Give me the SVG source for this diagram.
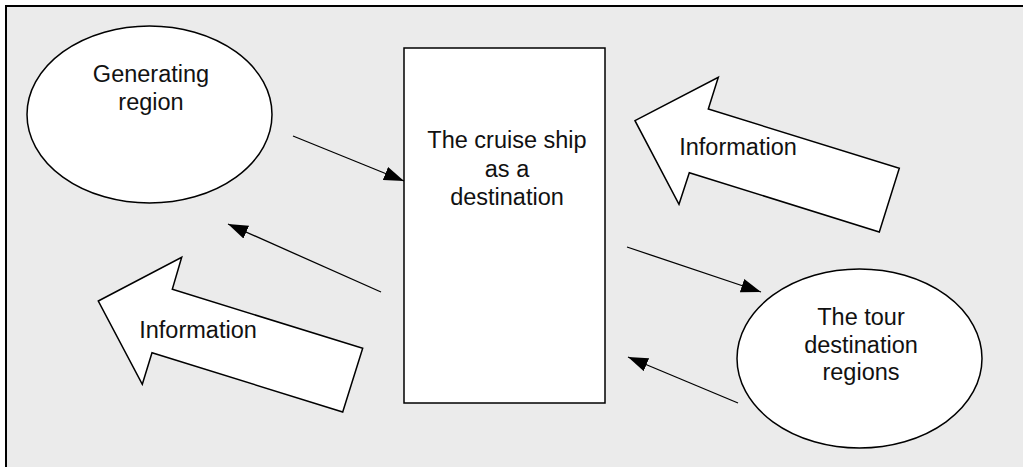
<svg xmlns="http://www.w3.org/2000/svg" width="1023" height="467" viewBox="0 0 1023 467">
<style>
.shape{fill:#ffffff;stroke:#000000;stroke-width:1.5}
.lbl{font-family:"Liberation Sans",Arial,Helvetica,sans-serif;font-size:23.5px;fill:#111111;text-anchor:middle}
.con{stroke:#000000;stroke-width:1.3;fill:none}
</style>
<defs>
<marker id="ah" markerWidth="20" markerHeight="14" refX="20" refY="7" orient="auto" markerUnits="userSpaceOnUse">
<path d="M0,0 L20,7 L0,14 Z" fill="#000000"/>
</marker>
</defs>
<rect x="0" y="0" width="1023" height="467" fill="#ffffff"/>
<rect x="5" y="5" width="1018" height="462" fill="#ebebeb"/>
<path d="M6,467 L6,6 L1023,6" fill="none" stroke="#000000" stroke-width="2"/>
<g id="generating-region">
<ellipse class="shape" cx="149.5" cy="114.5" rx="122.5" ry="88.5"/>
<text class="lbl" x="151" y="82">Generating</text>
<text class="lbl" x="151" y="110">region</text>
</g>
<g id="cruise-ship">
<rect class="shape" x="404" y="48" width="201" height="355"/>
<text class="lbl" x="507" y="148">The cruise ship</text>
<text class="lbl" x="507" y="177">as a</text>
<text class="lbl" x="507" y="205">destination</text>
</g>
<g id="tour-destination">
<ellipse class="shape" cx="859.5" cy="358.5" rx="122.5" ry="89.5"/>
<text class="lbl" x="861" y="325">The tour</text>
<text class="lbl" x="861" y="353">destination</text>
<text class="lbl" x="861" y="380">regions</text>
</g>
<g id="info-top">
<polygon class="shape" points="635,120.7 718.3,77.3 708.3,109 899.3,168.3 879.3,232 689.3,172.7 679,204.3"/>
<text class="lbl" x="738" y="155">Information</text>
</g>
<g id="info-bottom">
<polygon class="shape" points="98.3,301 181.7,257.3 172.3,289.3 362.7,348.3 342.7,412 152,352.7 142.3,384.3"/>
<text class="lbl" x="198" y="338">Information</text>
</g>
<g id="connectors">
<line class="con" x1="293" y1="136" x2="404" y2="181" marker-end="url(#ah)"/>
<line class="con" x1="381" y1="292" x2="228" y2="224" marker-end="url(#ah)"/>
<line class="con" x1="627" y1="247" x2="761" y2="292" marker-end="url(#ah)"/>
<line class="con" x1="738" y1="403" x2="628" y2="357" marker-end="url(#ah)"/>
</g>
</svg>
